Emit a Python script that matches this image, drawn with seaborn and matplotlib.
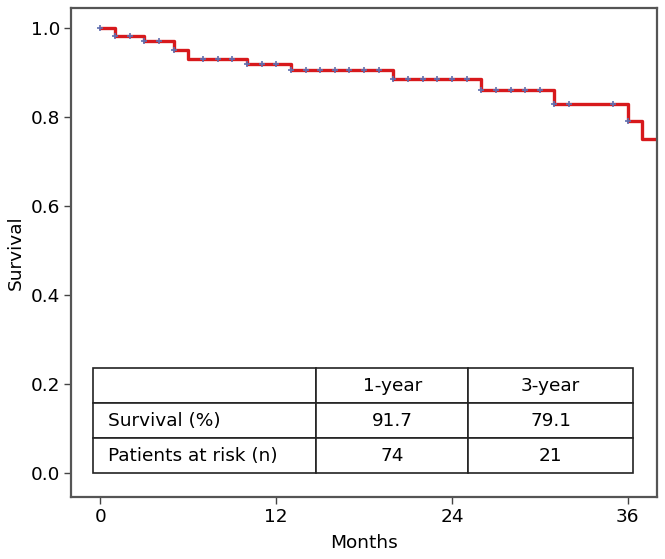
import numpy as np
import pandas as pd
import seaborn as sns
import matplotlib.pyplot as plt

# Kaplan-Meier step data (months, survival)
times = [0, 1, 3, 5, 6, 10, 13, 20, 26, 31, 36, 37, 38]
surv = [1.0, 0.982, 0.971, 0.951, 0.929, 0.918, 0.905, 0.885, 0.860, 0.829, 0.791, 0.751, 0.751]

# Censoring marks (months)
censor_times = [0, 1, 2, 3, 4, 5, 7, 8, 9, 10, 11, 12, 13, 14, 15, 16, 17, 18, 19,
                20, 21, 22, 23, 24, 25, 26, 27, 28, 29, 30, 31, 32, 35, 36]

# Table contents
col_labels = ["", "1-year", "3-year"]
row_survival = ["Survival (%)", "91.7", "79.1"]
row_risk = ["Patients at risk (n)", "74", "21"]

sns.set_style("white")
plt.rcParams['font.family'] = ['DejaVu Sans']
plt.rcParams['text.color'] = 'black'
plt.rcParams['axes.labelcolor'] = 'black'
plt.rcParams['xtick.color'] = 'black'
plt.rcParams['ytick.color'] = 'black'

km = pd.DataFrame({"Months": times, "Survival": surv})
idx = np.searchsorted(times, censor_times, side="right") - 1
cens = pd.DataFrame({"Months": censor_times, "Survival": np.array(surv)[idx]})

fig, ax = plt.subplots(figsize=(6.65, 5.59), dpi=100)
sns.lineplot(data=km, x="Months", y="Survival", ax=ax, color="#d7191c",
             linewidth=2.4, drawstyle="steps-post")
sns.scatterplot(data=cens, x="Months", y="Survival", ax=ax, marker="+",
                color="#5f6fb0", s=16, linewidth=1.2, zorder=3)

ax.set_xlim(-2, 38)
ax.set_ylim(-0.054, 1.045)
ax.set_xticks([0, 12, 24, 36])
ax.set_yticks([0.0, 0.2, 0.4, 0.6, 0.8, 1.0])
ax.set_yticklabels(["0.0", "0.2", "0.4", "0.6", "0.8", "1.0"])
ax.tick_params(axis="both", which="both", direction="out", length=5, width=1,
               color="#444444", labelsize=13.3, pad=3, left=True, bottom=True)
ax.set_xlabel("Months", fontsize=13.3, labelpad=6)
ax.set_ylabel("Survival", fontsize=13.3, labelpad=4)
for s in ax.spines.values():
    s.set_color("#555555")
    s.set_linewidth(1.6)

tbl = ax.table(cellText=[col_labels, row_survival, row_risk],
               cellLoc="center", colWidths=[0.413, 0.282, 0.304],
               bbox=[0.0367, 0.0485, 0.922, 0.215])
tbl.auto_set_font_size(False)
tbl.set_fontsize(13.3)
for (r, c), cell in tbl.get_celld().items():
    cell.set_edgecolor("#222222")
    cell.set_linewidth(1.2)
    if c == 0:
        cell.get_text().set_ha("left")
        cell.PAD = 0.07

fig.subplots_adjust(left=0.107, right=0.988, top=0.986, bottom=0.111)
fig.savefig("out.png", dpi=100)
